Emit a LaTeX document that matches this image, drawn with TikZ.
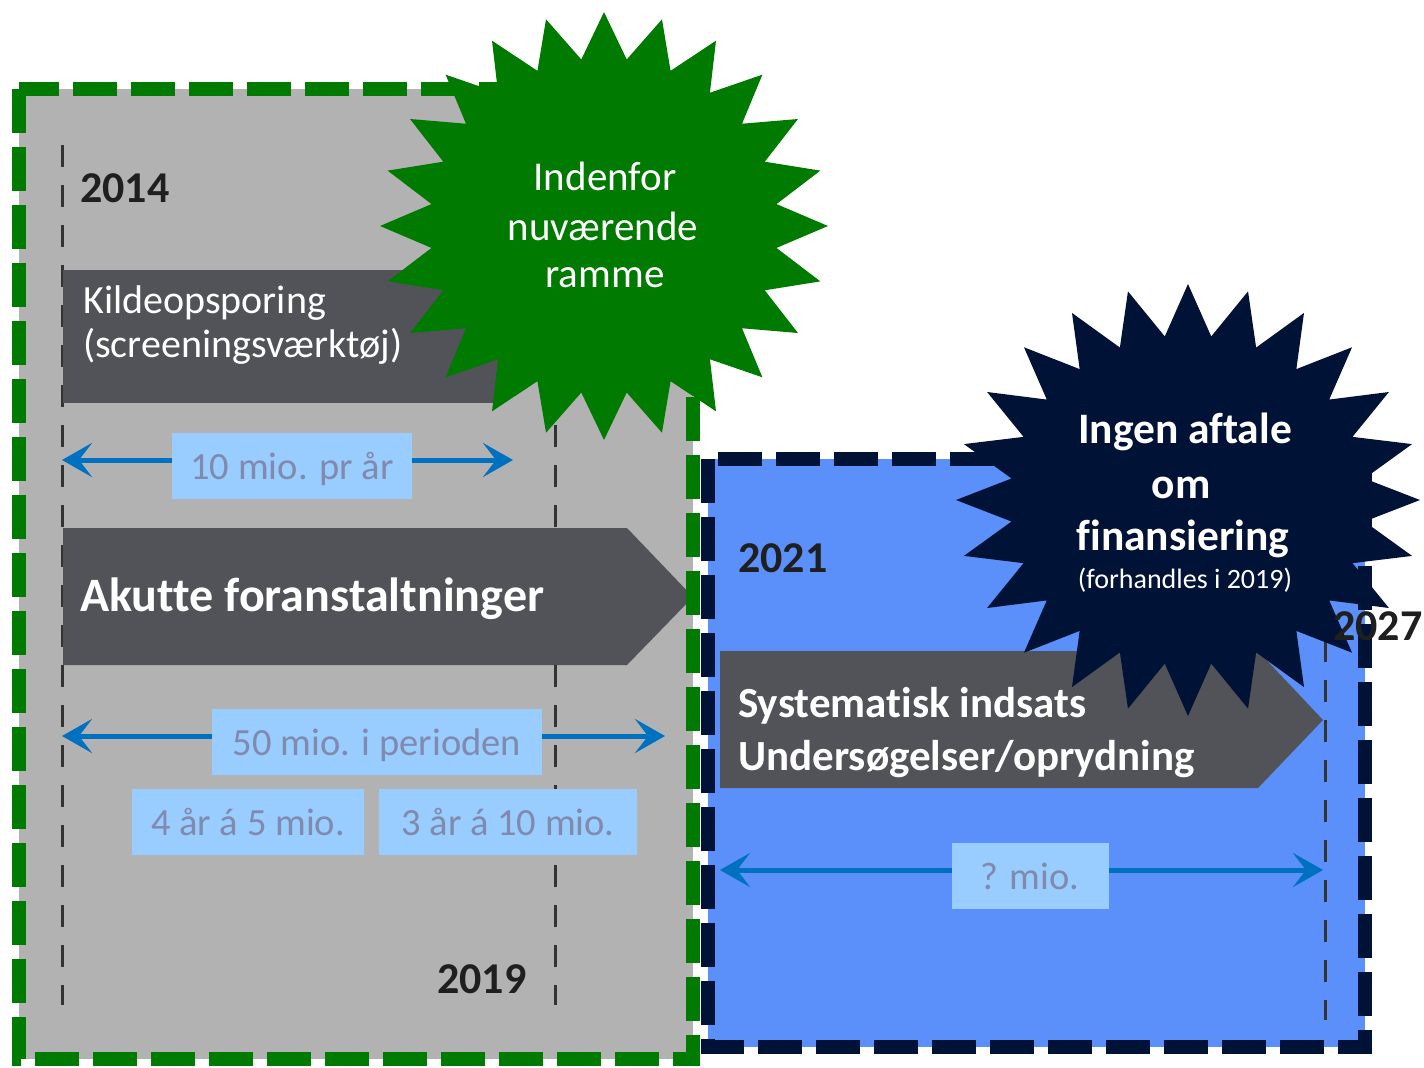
\documentclass[tikz,border=0pt]{standalone}
\usepackage{fontspec}
\setmainfont{Carlito}[Ligatures=NoCommon]
\usetikzlibrary{arrows.meta}
\definecolor{bggray}{HTML}{B2B2B2}
\definecolor{bordergreen}{HTML}{007A00}
\definecolor{bgblue}{HTML}{5B8FF9}
\definecolor{navy}{HTML}{001236}
\definecolor{darkbox}{HTML}{525359}
\definecolor{lblfill}{HTML}{99CCFF}
\definecolor{lbltext}{HTML}{7F8AAC}
\definecolor{arrowblue}{HTML}{0070C0}
\definecolor{yeartext}{HTML}{1F1F1F}
\definecolor{vlinecol}{HTML}{333333}
\begin{document}
\begin{tikzpicture}[x=1pt,y=-1pt,
  yearlbl/.style={anchor=base west, inner sep=0pt, text=yeartext, font=\fontsize{44}{50}\selectfont\bfseries},
  boxtxt/.style={anchor=base west, inner sep=0pt, text=white},
  bigtxt/.style={boxtxt, font=\fontsize{48}{54}\selectfont\bfseries},
  midtxt/.style={boxtxt, font=\fontsize{43}{48}\selectfont\bfseries},
  regtxt/.style={boxtxt, font=\fontsize{40}{44}\selectfont},
  lblbox/.style={fill=lblfill, text=lbltext, inner sep=0pt, minimum height=66pt,
     text height=27pt, text depth=0pt, font=\fontsize{38.5}{40}\selectfont},
  spanarrow/.style={draw=arrowblue, line width=5pt,
     {Stealth[length=30pt,width=34pt,inset=13pt]}-{Stealth[length=30pt,width=34pt,inset=13pt]}},
  vline/.style={draw=vlinecol, line width=3pt, dash pattern=on 22pt off 18pt},
  startxt/.style={anchor=base, inner sep=0pt, text=white},
]
\useasboundingbox (0,0) rectangle (1424,1068);

% regions
\fill[bggray] (19,89) rectangle (693,1059);
\fill[bgblue] (708,459) rectangle (1365,1047);

% vertical dashed year lines
\draw[vline] (62,145) -- (62,1005);
\draw[vline] (555,145) -- (555,1005);
\draw[vline] (1325,600) -- (1325,1020);

% dark boxes
\fill[darkbox] (63,270) rectangle (500,403);
\fill[darkbox] (63,528) -- (627,528) -- (693,597) -- (627,665) -- (63,665) -- cycle;
\fill[darkbox] (720,651) -- (1258,651) -- (1323,720) -- (1258,788) -- (720,788) -- cycle;

% borders
\draw[bordergreen, line width=14pt, dash pattern=on 44pt off 14pt] (19,89) rectangle (693,1059);
\draw[navy, line width=14pt, dash pattern=on 44pt off 14pt] (708,459) rectangle (1365,1047);

% box texts
\node[regtxt] (kilde1) at (83,313) {Kildeopsporing};
\node[regtxt] (kilde2) at (83,357) {(screeningsværktøj)};
\node[bigtxt] (akut) at (80,611) {Akutte foranstaltninger};
\node[midtxt] (sys1) at (738,717) {Systematisk indsats};
\node[midtxt] (sys2) at (738,770) {Undersøgelser/oprydning};

% span arrows
\coordinate (a1l) at (62,460);
\coordinate (a1r) at (513,460);
\coordinate (a2l) at (62,736);
\coordinate (a2r) at (665,736);
\coordinate (a3l) at (720,870);
\coordinate (a3r) at (1323,870);
\draw[spanarrow] (a1l) -- (a1r);
\draw[spanarrow] (a2l) -- (a2r);
\draw[spanarrow] (a3l) -- (a3r);

% labels
\node[lblbox, minimum width=240pt] (l1) at (292,466) {10 mio. pr år};
\node[lblbox, minimum width=330pt] (l2) at (377,742) {50 mio. i perioden};
\node[lblbox, minimum width=232pt] (l3) at (248,822) {4 år á 5 mio.};
\node[lblbox, minimum width=258pt] (l4) at (508,822) {3 år á 10 mio.};
\node[lblbox, minimum width=157pt] (l5) at (1030,876) {? mio.};

% stars
\fill[bordergreen] plot[variable=\k, samples at={0,...,47}]
  ({604+ifthenelse(mod(\k,2)==0,224,174)*cos(90+7.5*\k)},
   {226-ifthenelse(mod(\k,2)==0,214,168)*sin(90+7.5*\k)}) -- cycle;
\fill[navy] plot[variable=\k, samples at={0,...,47}]
  ({1188+ifthenelse(mod(\k,2)==0,232,178)*cos(90+7.5*\k)},
   {500-ifthenelse(mod(\k,2)==0,216,165)*sin(90+7.5*\k)}) -- cycle;

% star texts
\node[startxt, font=\fontsize{41}{44}\selectfont] (g1) at (605,190) {Indenfor};
\node[startxt, font=\fontsize{41}{44}\selectfont] (g2) at (603,240) {nuværende};
\node[startxt, font=\fontsize{41}{44}\selectfont] (g3) at (605,287) {ramme};
\node[startxt, font=\fontsize{43.5}{46}\selectfont\bfseries] (n1) at (1185,443) {Ingen aftale};
\node[startxt, font=\fontsize{43.5}{46}\selectfont\bfseries] (n2) at (1181,498) {om};
\node[startxt, font=\fontsize{43.5}{46}\selectfont\bfseries] (n3) at (1183,550) {finansiering};
\node[startxt, font=\fontsize{28}{30}\selectfont] (n4) at (1185,588) {(forhandles i 2019)};

% years
\node[yearlbl] (y2014) at (80,202) {2014};
\node[yearlbl] (y2019) at (437,993) {2019};
\node[yearlbl] (y2021) at (738,572) {2021};
\node[yearlbl] (y2027) at (1333,640) {2027};
\end{tikzpicture}
\end{document}
